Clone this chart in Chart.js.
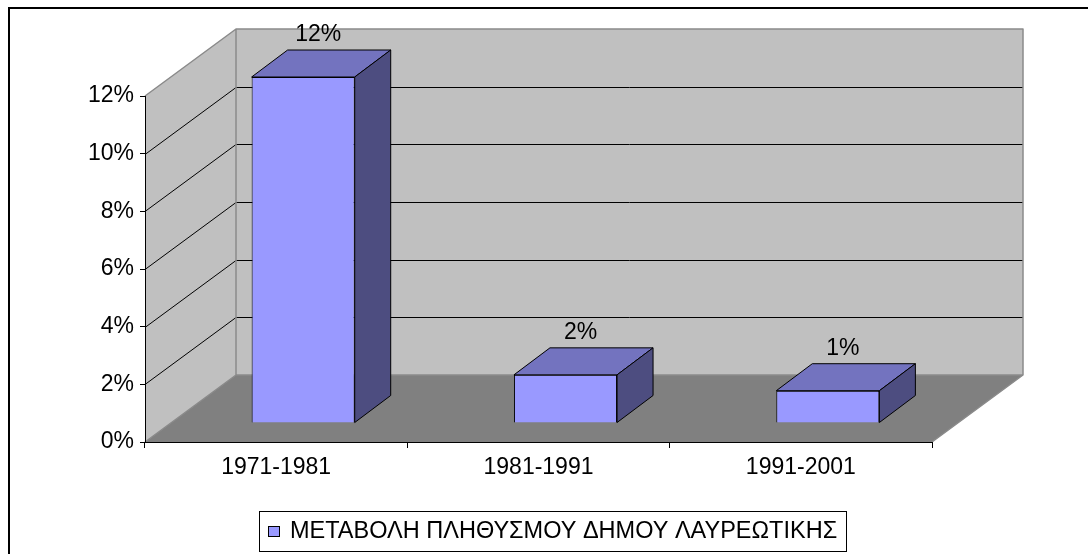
<!DOCTYPE html>
<html>
<head>
<meta charset="utf-8">
<title>Μεταβολή πληθυσμού</title>
<script src="https://cdn.jsdelivr.net/npm/chart.js@4.4.0/dist/chart.umd.min.js"></script>
<style>
  html, body { margin: 0; padding: 0; background: #fff; }
  #wrap { width: 1088px; height: 554px; position: relative; }
</style>
</head>
<body>
<div id="wrap"><canvas id="popChart"></canvas></div>
<script>
// data
const periods = ['1971-1981', '1981-1991', '1991-2001'];
const changePct = [12.0, 1.67, 1.12];
const yTickValues = [0, 2, 4, 6, 8, 10, 12];
const seriesName = 'ΜΕΤΑΒΟΛΗ ΠΛΗΘΥΣΜΟΥ ΔΗΜΟΥ ΛΑΥΡΕΩΤΙΚΗΣ';

const FONT = '"Liberation Sans", Arial, sans-serif';
const FONT_SIZE = 23;

// fake 3d projection
const depth = { x: 91, y: -67 };     // front plane -> back wall
const barShift = { x: 27, y: -19 };  // front plane -> bar front face
const barDepth = { x: 36, y: -27 };  // bar front face -> bar back face

const wallPlugin = {
  id: 'walls',
  beforeDraw(chart) {
    const ctx = chart.ctx;
    const xs = chart.scales.x, ys = chart.scales.y;
    const left = xs.left, right = xs.right;
    const y0 = ys.getPixelForValue(ys.min);
    const yTop = ys.getPixelForValue(ys.max);

    ctx.save();
    // outer frame
    ctx.strokeStyle = '#000';
    ctx.lineWidth = 2;
    ctx.strokeRect(9, 8, 1200, 700);

    ctx.lineJoin = 'round';
    // back wall
    ctx.fillStyle = '#c0c0c0';
    ctx.fillRect(left + depth.x, yTop + depth.y, right - left, y0 - yTop);
    // side wall
    ctx.beginPath();
    ctx.moveTo(left, y0);
    ctx.lineTo(left, yTop);
    ctx.lineTo(left + depth.x, yTop + depth.y);
    ctx.lineTo(left + depth.x, y0 + depth.y);
    ctx.closePath();
    ctx.fill();
    // floor
    ctx.fillStyle = '#808080';
    ctx.beginPath();
    ctx.moveTo(left, y0);
    ctx.lineTo(right, y0);
    ctx.lineTo(right + depth.x, y0 + depth.y);
    ctx.lineTo(left + depth.x, y0 + depth.y);
    ctx.closePath();
    ctx.fill();

    // gridlines on back and side walls
    ctx.strokeStyle = '#000';
    ctx.lineWidth = 1;
    yTickValues.forEach(v => {
      if (v <= ys.min || v >= ys.max) return;
      const y = Math.round(ys.getPixelForValue(v)) + 0.5;
      ctx.beginPath();
      ctx.moveTo(left, y);
      ctx.lineTo(left + depth.x, y + depth.y);
      ctx.lineTo(right + depth.x, y + depth.y);
      ctx.stroke();
    });

    // wall edges
    ctx.strokeStyle = '#8a8a8a';
    ctx.lineWidth = 1.5;
    ctx.beginPath();
    ctx.moveTo(left, yTop);
    ctx.lineTo(left + depth.x, yTop + depth.y);
    ctx.lineTo(right + depth.x, yTop + depth.y);
    ctx.lineTo(right + depth.x, y0 + depth.y);
    ctx.lineTo(right, y0);
    ctx.moveTo(left, y0);
    ctx.lineTo(left + depth.x, y0 + depth.y);
    ctx.lineTo(right + depth.x, y0 + depth.y);
    ctx.moveTo(left + depth.x, yTop + depth.y);
    ctx.lineTo(left + depth.x, y0 + depth.y);
    ctx.stroke();
    ctx.restore();
  },
  beforeDatasetsDraw(chart) {
    chart.ctx.save();
    chart.ctx.translate(barShift.x, barShift.y);
  },
  afterDatasetsDraw(chart) {
    const ctx = chart.ctx;
    const meta = chart.getDatasetMeta(0);
    ctx.lineWidth = 1;
    ctx.strokeStyle = '#000';
    ctx.lineJoin = 'miter';
    meta.data.forEach(bar => {
      const p = bar.getProps(['x', 'y', 'base', 'width'], true);
      const l = p.x - p.width / 2, r = p.x + p.width / 2;
      const t = p.y, b = p.base;
      // top face
      ctx.fillStyle = '#7373bf';
      ctx.beginPath();
      ctx.moveTo(l, t);
      ctx.lineTo(l + barDepth.x, t + barDepth.y);
      ctx.lineTo(r + barDepth.x, t + barDepth.y);
      ctx.lineTo(r, t);
      ctx.closePath();
      ctx.fill();
      ctx.stroke();
      // side face
      ctx.fillStyle = '#4d4d80';
      ctx.beginPath();
      ctx.moveTo(r, t);
      ctx.lineTo(r + barDepth.x, t + barDepth.y);
      ctx.lineTo(r + barDepth.x, b + barDepth.y);
      ctx.lineTo(r, b);
      ctx.closePath();
      ctx.fill();
      ctx.stroke();
    });
    // value labels
    ctx.fillStyle = '#000';
    ctx.font = FONT_SIZE + 'px ' + FONT;
    ctx.textAlign = 'center';
    ctx.textBaseline = 'alphabetic';
    meta.data.forEach((bar, i) => {
      const p = bar.getProps(['x', 'y'], true);
      ctx.fillText(Math.round(changePct[i]) + '%', p.x + barDepth.x / 2 - 3, p.y + barDepth.y - 17 + 8);
    });
    ctx.restore();
  },
  afterDraw(chart) {
    // legend box
    const ctx = chart.ctx;
    ctx.save();
    ctx.strokeStyle = '#000';
    ctx.lineWidth = 1;
    ctx.strokeRect(259.5, 511.5, 587, 40);
    ctx.fillStyle = '#9999ff';
    ctx.fillRect(268, 526, 12, 11);
    ctx.strokeRect(268.5, 526.5, 11, 10);
    ctx.fillStyle = '#000';
    ctx.font = '23.5px ' + FONT;
    ctx.textAlign = 'left';
    ctx.textBaseline = 'middle';
    ctx.fillText(seriesName, 290, 532);
    ctx.restore();
  }
};

new Chart(document.getElementById('popChart'), {
  type: 'bar',
  data: {
    labels: periods,
    datasets: [{
      label: seriesName,
      data: changePct,
      backgroundColor: '#9999ff',
      borderColor: '#000',
      borderWidth: 1,
      barPercentage: 0.393,
      categoryPercentage: 1,
      clip: false
    }]
  },
  options: {
    responsive: true,
    maintainAspectRatio: false,
    animation: false,
    events: [],
    layout: { padding: { left: 85, right: 156, top: 96, bottom: 72 } },
    plugins: {
      legend: { display: false },
      tooltip: { enabled: false }
    },
    scales: {
      x: {
        grid: { drawOnChartArea: false, color: '#000', tickLength: 6 },
        border: { color: '#000', width: 1 },
        ticks: { color: '#000', font: { family: FONT, size: FONT_SIZE }, padding: 6, maxRotation: 0 },
        afterFit: s => { s.height = 40; }
      },
      y: {
        min: 0,
        max: 12,
        grid: { drawOnChartArea: false, color: '#000', tickLength: 5 },
        border: { color: '#000', width: 1 },
        ticks: {
          stepSize: 2,
          color: '#000',
          padding: 6,
          font: { family: FONT, size: FONT_SIZE },
          callback: v => v + '%'
        },
        afterFit: s => { s.width = 60; }
      }
    }
  },
  plugins: [wallPlugin]
});
</script>
</body>
</html>
